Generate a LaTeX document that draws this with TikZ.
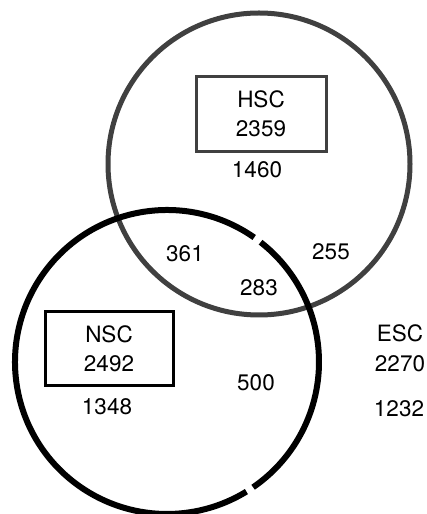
\documentclass[tikz,border=0pt]{standalone}
\usepackage{fontspec}
\setmainfont{TeX Gyre Heros}
\begin{document}
\begin{tikzpicture}[x=1pt,y=1pt,
  lbl/.style={font=\fontsize{22.5}{29.5}\selectfont, inner sep=0pt, align=center},
  setbox/.style={lbl, rectangle, minimum width=#1, minimum height=75},
  hscline/.style={draw=black!75, line width=5},
  nscline/.style={draw=black, line width=6}]
\useasboundingbox (0,0) rectangle (427,514);
\fill[white] (0,0) rectangle (427,514);
% HSC circle
\coordinate (hc) at (259,350);
\draw[hscline] (hc) circle[radius=151];
% NSC circle with two small breaks
\coordinate (nc) at (167,152);
\draw[nscline] (nc) ++(55:152) arc[start angle=55, end angle=301.5, radius=152];
\draw[nscline] (nc) ++(-55.5:152) arc[start angle=-55.5, end angle=52, radius=152];
% boxes
\node[setbox=130, draw=black!75, line width=3] (hsc) at (261,400) {HSC\\2359};
\node[setbox=128, draw=black, line width=3, minimum height=74] (nsc) at (109,165) {NSC\\2492};
% counts
\node[lbl] (h1460) at (257,344) {1460};
\node[lbl] (n361) at (185,260) {361};
\node[lbl] (n255) at (331,262) {255};
\node[lbl] (n283) at (259,226) {283};
\node[lbl] (n500) at (256,131) {500};
\node[lbl] (n1348) at (107,107) {1348};
\node[lbl] (esc) at (400,165.5) {ESC\\2270};
\node[lbl] (n1232) at (399,105) {1232};
\end{tikzpicture}
\end{document}
